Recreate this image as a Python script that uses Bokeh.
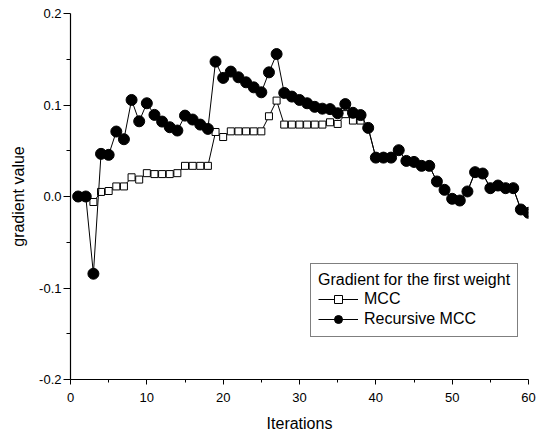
from bokeh.plotting import figure
from bokeh.models import (Range1d, FixedTicker, PrintfTickFormatter, Legend, LegendItem,
                          ColumnDataSource)
from bokeh.embed import file_html
from bokeh.resources import INLINE

iterations = list(range(1, 61))
mcc = [0, 0, -0.006, 0.005, 0.006, 0.011, 0.011, 0.021, 0.0185, 0.0255,
       0.0245, 0.0245, 0.0245, 0.0255, 0.0335, 0.0335, 0.0335, 0.0335, 0.0705, 0.065,
       0.0712, 0.0712, 0.0712, 0.0712, 0.0712, 0.0877, 0.1048, 0.0786, 0.0786, 0.0786,
       0.0786, 0.0786, 0.0786, 0.0811, 0.0793, 0.090, 0.083, 0.083, 0.075, 0.0425,
       0.0425, 0.0425, 0.0506, 0.0389, 0.0378, 0.0335, 0.0335, 0.0164, 0.0073, -0.0025,
       -0.0044, 0.0055, 0.0266, 0.0251, 0.0091, 0.012, 0.0091, 0.0091, -0.0142, -0.0178]
recursive_mcc = [0, 0, -0.0844, 0.0466, 0.0455, 0.071, 0.0626, 0.1055, 0.0822, 0.1019,
                 0.0892, 0.0819, 0.0757, 0.0721, 0.0884, 0.0841, 0.0786, 0.0739, 0.1474, 0.1296,
                 0.1365, 0.1303, 0.1248, 0.1193, 0.1139, 0.1357, 0.1557, 0.1132, 0.1092, 0.1055,
                 0.1019, 0.098, 0.096, 0.0955, 0.091, 0.101, 0.0915, 0.089, 0.075, 0.0425,
                 0.0425, 0.0425, 0.0506, 0.0389, 0.0378, 0.0335, 0.0335, 0.0164, 0.0073, -0.0025,
                 -0.0044, 0.0055, 0.0266, 0.0251, 0.0091, 0.012, 0.0091, 0.0091, -0.0142, -0.0178]
x_ticks = [0, 10, 20, 30, 40, 50, 60]
x_minor = [5, 15, 25, 35, 45, 55]
y_ticks = [-0.2, -0.1, 0.0, 0.1, 0.2]
y_minor = [-0.15, -0.05, 0.05, 0.15]

FONT = "Liberation Sans"

p = figure(width=546, height=435, output_backend="svg", toolbar_location=None,
           x_range=Range1d(0, 60), y_range=Range1d(-0.2, 0.2),
           min_border_left=70, min_border_right=18, min_border_top=13, min_border_bottom=56)
p.outline_line_color = None
p.xgrid.visible = False
p.ygrid.visible = False
p.background_fill_color = "white"

src = ColumnDataSource(dict(x=iterations, m=mcc, r=recursive_mcc))

l1 = p.line("x", "m", source=src, line_color="black", line_width=1)
s1 = p.scatter("x", "m", source=src, marker="square", size=7, fill_color="white",
               line_color="black", line_width=1)
l2 = p.line("x", "r", source=src, line_color="black", line_width=1)
s2 = p.scatter("x", "r", source=src, marker="circle", size=11, fill_color="black",
               line_color="black")

for ax in (p.xaxis[0], p.yaxis[0]):
    ax.axis_line_color = "black"
    ax.axis_line_width = 1.2
    ax.major_tick_line_color = "black"
    ax.minor_tick_line_color = "black"
    ax.major_tick_in = 0
    ax.minor_tick_in = 0
    ax.major_label_text_font = FONT
    ax.major_label_text_font_size = "13px"
    ax.major_label_text_color = "black"
    ax.axis_label_text_font = FONT
    ax.axis_label_text_font_size = "16px"
    ax.axis_label_text_font_style = "normal"
    ax.axis_label_text_color = "black"

p.xaxis.ticker = FixedTicker(ticks=x_ticks, minor_ticks=x_minor)
p.yaxis.ticker = FixedTicker(ticks=y_ticks, minor_ticks=y_minor)
p.yaxis.formatter = PrintfTickFormatter(format="%.1f")
p.xaxis.major_tick_out = 5
p.xaxis.minor_tick_out = 3
p.yaxis.major_tick_out = 7
p.yaxis.minor_tick_out = 4
p.xaxis.major_label_standoff = 8
p.yaxis.major_label_standoff = 2
p.xaxis.axis_label = "Iterations"
p.yaxis.axis_label = "gradient value"
p.xaxis.axis_label_standoff = 10
p.yaxis.axis_label_standoff = 9

legend = Legend(items=[LegendItem(label="MCC", renderers=[l1, s1]),
                       LegendItem(label="Recursive MCC", renderers=[l2, s2])],
                title="Gradient for the first weight",
                location=(240, 42))
legend.title_text_font = FONT
legend.title_text_font_size = "16px"
legend.title_text_font_style = "normal"
legend.title_text_color = "black"
legend.label_text_font = FONT
legend.label_text_font_size = "16px"
legend.label_text_color = "black"
legend.border_line_color = "black"
legend.border_line_width = 1
legend.background_fill_alpha = 1
legend.padding = 7
legend.spacing = 0
legend.margin = 0
legend.title_standoff = 0
legend.glyph_width = 40
legend.glyph_height = 20
legend.label_height = 20
legend.label_standoff = 6
p.add_layout(legend)

open("out.html", "w").write(file_html(p, INLINE))
